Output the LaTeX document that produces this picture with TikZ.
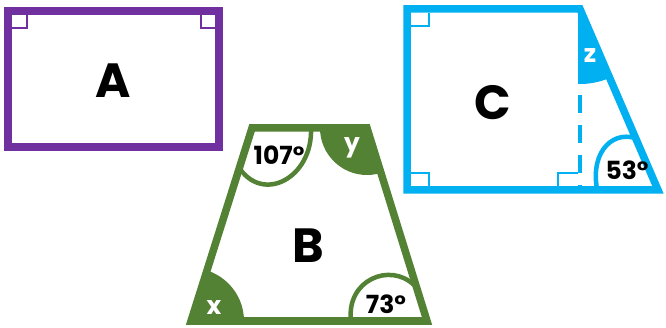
\documentclass[tikz,border=0pt]{standalone}
\usepackage{fontspec}
\setmainfont{Poppins}

\definecolor{shapeA}{HTML}{7030A0}
\definecolor{shapeB}{HTML}{548235}
\definecolor{shapeC}{HTML}{00B0F0}

\begin{document}
\begin{tikzpicture}[x=1pt,y=-1pt,
  border/.style={line width=7.5pt,line join=miter},
  anglearc/.style={line width=4.5pt},
  rightmark/.style={line width=2pt},
  biglabel/.style={anchor=base,inner sep=0pt,font=\fontsize{48}{56}\selectfont\bfseries},
  anglelabel/.style={anchor=base,inner sep=0pt,font=\fontsize{25}{30}\selectfont\bfseries}]
\path[use as bounding box,fill=white] (0,0) rectangle (666,328);

% rectangle A
\draw[border,shapeA] (8,11) rectangle (219,147);
\draw[rightmark,shapeA] (12,28) -- (27,28) -- (27,15);
\draw[rightmark,shapeA] (215,28) -- (201,28) -- (201,15);
\node[biglabel] (labA) at (113,98) {A};

% trapezoid B
\coordinate (bTL) at (252,128);
\coordinate (bTR) at (367,128);
\coordinate (bBR) at (427,321);
\coordinate (bBL) at (191,321);
\begin{scope}
\clip (bTL) -- (bTR) -- (bBR) -- (bBL) -- cycle;
\fill[shapeB] (bTR) circle[radius=47pt];
\fill[shapeB] (bBL) circle[radius=53pt];
\draw[anglearc,shapeB] (311,120) -- (311,128) .. controls (313,178) and (262,205) .. (238,166);
\draw[anglearc,shapeB] (351,325) -- (351,321) .. controls (346,280) and (390,262) .. (414,285);
\end{scope}
\draw[border,shapeB] (bTL) -- (bTR) -- (bBR) -- (bBL) -- cycle;
\node[biglabel] (labB) at (308,263) {B};
\node[anglelabel] (ang107) at (279,165) {107°};
\node[anglelabel] (ang73) at (386,313) {73°};
\node[anglelabel,white] (angx) at (214,315) {x};
\node[anglelabel,white] (angy) at (352,152) {y};

% shape C
\coordinate (cTL) at (407,9);
\coordinate (cTR) at (580,9);
\coordinate (cBR) at (658,190);
\coordinate (cBL) at (407,190);
\begin{scope}
\clip (578,9) -- (578,190) -- (cBR) -- (cTR) -- cycle;
\fill[shapeC] (cTR) circle[radius=75pt];
\end{scope}
\begin{scope}
\clip (cTL) -- (cTR) -- (cBR) -- (cBL) -- cycle;
\draw[anglearc,shapeC] (597,195) -- (597,189) .. controls (590,150) and (615,128) .. (640,140);
\end{scope}
\draw[shapeC,line width=4pt,dash pattern=on 18pt off 12pt] (580,95) -- (580,190);
\draw[rightmark,shapeC] (411,26) -- (429,26) -- (429,13);
\draw[rightmark,shapeC] (411,173) -- (429,173) -- (429,186);
\draw[rightmark,shapeC] (578,173) -- (558,173) -- (558,186);
\draw[border,shapeC] (cTL) -- (cTR) -- (cBR) -- (cBL) -- cycle;
\node[biglabel] (labC) at (493,120) {C};
\node[anglelabel,white] (angz) at (590,63) {z};
\node[anglelabel] (ang53) at (627,180) {53°};
\end{tikzpicture}
\end{document}
